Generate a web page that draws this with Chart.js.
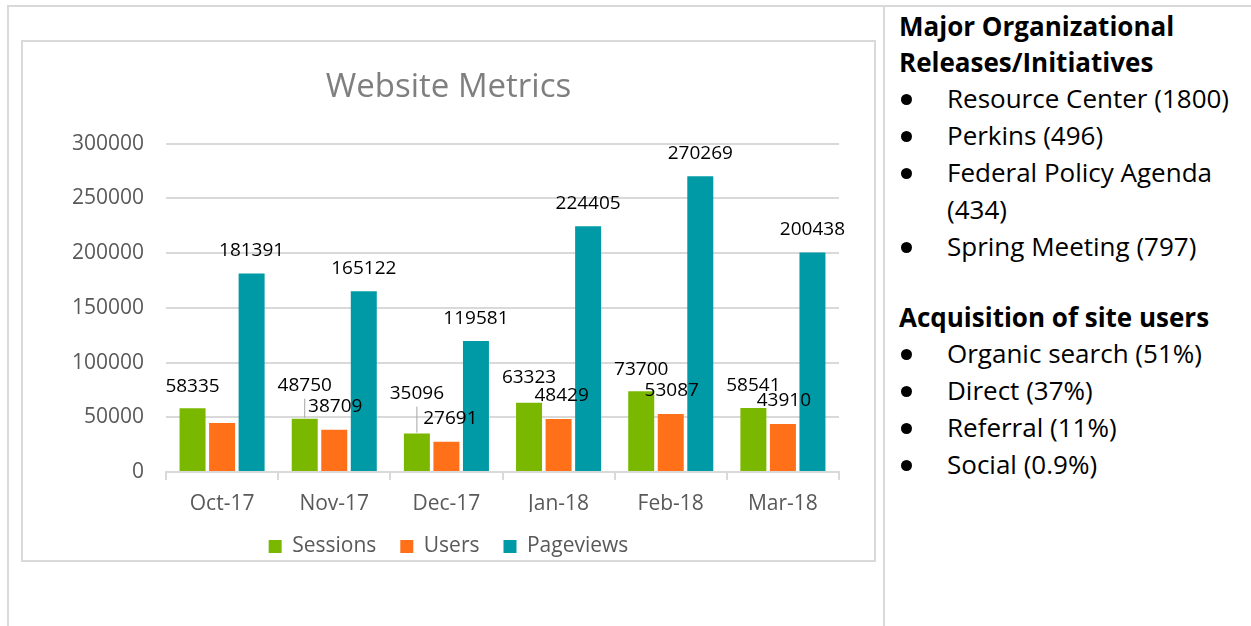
<!DOCTYPE html>
<html>
<head>
<meta charset="utf-8">
<script src="https://cdn.jsdelivr.net/npm/chart.js@4.4.1/dist/chart.umd.min.js"></script>
<style>
  html, body { margin: 0; padding: 0; background: #fff; }
  body { width: 1251px; height: 626px; position: relative; overflow: hidden; font-family: "Open Sans", sans-serif; }
  .cell { position: absolute; border-top: 2px solid #d9d9d9; border-left: 2px solid #d9d9d9; }
  #left { left: 7px; top: 5px; width: 876px; height: 640px; }
  #right { left: 883px; top: 5px; width: 380px; height: 640px; }
  #box { position: absolute; left: 21px; top: 40px; width: 851px; height: 518px; border: 2px solid #d9d9d9; box-sizing: content-box; }
  #box canvas { display: block; }
  #notes { position: absolute; left: 899px; top: 8px; width: 352px; color: #000; font-size: 26px; line-height: 37px; }
  #notes h3 { margin: 0; font-size: 26px; font-weight: 700; line-height: 36px; }
  #notes ul { list-style: none; margin: 0; padding: 0; }
  #notes li { position: relative; padding-left: 48px; white-space: nowrap; }
  #notes li::before { content: ""; position: absolute; left: 2px; top: 14px; width: 11px; height: 11px; border-radius: 50%; background: #000; }
  #notes .gap { height: 34px; }
</style>
</head>
<body>
<div class="cell" id="left"></div>
<div class="cell" id="right"></div>
<div id="box"><canvas id="chart" width="851" height="518"></canvas></div>
<div id="notes">
  <h3>Major Organizational<br>Releases/Initiatives</h3>
  <ul>
    <li>Resource Center (1800)</li>
    <li>Perkins (496)</li>
    <li>Federal Policy Agenda<br>(434)</li>
    <li>Spring Meeting (797)</li>
  </ul>
  <div class="gap"></div>
  <h3>Acquisition of site users</h3>
  <ul>
    <li>Organic search (51%)</li>
    <li>Direct (37%)</li>
    <li>Referral (11%)</li>
    <li>Social (0.9%)</li>
  </ul>
</div>
<script>
const months = ['Oct-17', 'Nov-17', 'Dec-17', 'Jan-18', 'Feb-18', 'Mar-18'];
const sessions = [58335, 48750, 35096, 63323, 73700, 58541];
const users = [44800, 38709, 27691, 48429, 53087, 43910];
const pageviews = [181391, 165122, 119581, 224405, 270269, 200438];

// label nudges (px) relative to the top centre of each bar, like the hand-placed Excel labels
const labelNudge = {
  0: { dy: [-22, -33, -40, -25, -22, -22] },
  1: { dx: [0, 1, 4, 3, 1, 1], dy: [-23, -23, -23, -23, -23, -23], hide: [0] },
  2: {}
};

const barLabels = {
  id: 'barLabels',
  afterDatasetsDraw(chart) {
    const ctx = chart.ctx;
    ctx.save();
    ctx.font = '19px "Open Sans"';
    ctx.fillStyle = '#000';
    ctx.textAlign = 'center';
    ctx.textBaseline = 'middle';
    chart.data.datasets.forEach((ds, i) => {
      const meta = chart.getDatasetMeta(i);
      const nudge = labelNudge[i] || {};
      meta.data.forEach((bar, j) => {
        if (nudge.hide && nudge.hide.includes(j)) return;
        const dx = nudge.dx ? nudge.dx[j] : 0;
        const dy = nudge.dy ? nudge.dy[j] : -23;
        ctx.fillText(ds.data[j], bar.x + dx, bar.y + dy);
        // leader lines where the label sits far above the bar
        if (dy < -30) {
          ctx.strokeStyle = '#a6a6a6';
          ctx.lineWidth = 1;
          ctx.beginPath();
          ctx.moveTo(bar.x, bar.y + dy + 13);
          ctx.lineTo(bar.x, bar.y - 1);
          ctx.stroke();
        }
      });
    });
    ctx.restore();
  }
};

new Chart(document.getElementById('chart'), {
  type: 'bar',
  data: {
    labels: months,
    datasets: [
      { label: 'Sessions', data: sessions, backgroundColor: '#7ab800' },
      { label: 'Users', data: users, backgroundColor: '#ff7019' },
      { label: 'Pageviews', data: pageviews, backgroundColor: '#009aa6' }
    ]
  },
  options: {
    responsive: false,
    animation: false,
    categoryPercentage: 0.79,
    barPercentage: 0.88,
    layout: { padding: { left: 0, right: 0, top: 26, bottom: 0 } },
    plugins: {
      title: {
        display: true,
        text: 'Website Metrics',
        color: '#7f7f7f',
        font: { family: 'Open Sans', size: 33, weight: 'normal' },
        padding: { top: 0, bottom: 36 }
      },
      legend: {
        position: 'bottom',
        maxHeight: 48,
        labels: {
          color: '#595959',
          font: { family: 'Open Sans', size: 21 },
          boxWidth: 13,
          boxHeight: 13,
          padding: 24
        }
      },
      tooltip: { enabled: false }
    },
    scales: {
      x: {
        afterFit(scale) { scale.height = 40; },
        grid: { display: true, drawOnChartArea: false, color: '#d9d9d9', tickLength: 8, lineWidth: 2 },
        border: { color: '#d9d9d9', width: 2 },
        ticks: { color: '#595959', font: { family: 'Open Sans', size: 21 }, padding: 11 }
      },
      y: {
        min: 0,
        max: 300000,
        afterFit(scale) { scale.width = 143; },
        grid: { color: '#d9d9d9', lineWidth: 2, drawTicks: false },
        border: { display: false },
        ticks: {
          stepSize: 50000,
          color: '#595959',
          font: { family: 'Open Sans', size: 21 },
          padding: 22,
          callback: v => String(v)
        }
      },
      // empty right-hand spacer so the plot ends where the original does
      spacer: {
        type: 'linear',
        position: 'right',
        afterFit(scale) { scale.width = 35; },
        grid: { display: false },
        border: { display: false },
        ticks: { display: false }
      }
    }
  },
  plugins: [barLabels]
});
</script>
</body>
</html>
